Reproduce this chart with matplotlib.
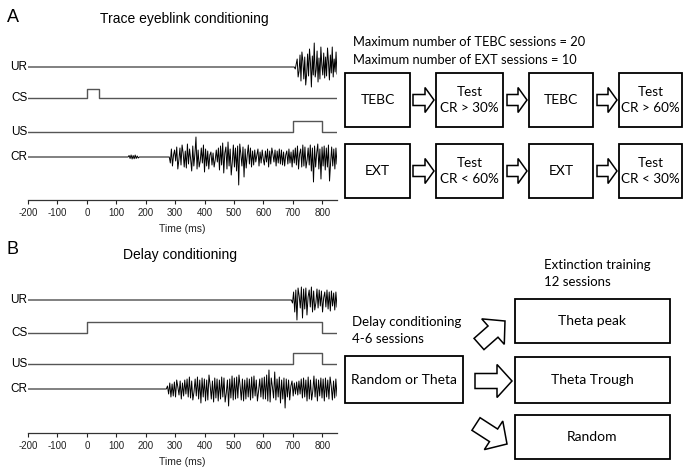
import numpy as np
import matplotlib
matplotlib.use("Agg")
import matplotlib.pyplot as plt
from matplotlib.patches import Rectangle, FancyArrow

plt.rcParams['font.family'] = ['Liberation Sans', 'DejaVu Sans']
plt.rcParams['axes.unicode_minus'] = False

# time axis (ms)
time_ticks = [-200, -100, 0, 100, 200, 300, 400, 500, 600, 700, 800]
t_start, t_end = -200, 850

# stimulus on/off times (ms)
cs_a = (0, 40)
us_a = (700, 800)
cs_b = (0, 800)
us_b = (700, 800)

# EMG traces (arbitrary units, positive = up)
ur_a_span = (705, 850)
ur_a = [0, -2, 3, 8, -10, -4, 12, -14,
        15, 6, -12, 10, -18, -7, 13, -9, 18, 4, -20, 11, -8,
        24, -10, -3, 16, -15, 9, -12, 20, 2, -8, 14, -11,
        10, -9, 19, 5, -13, 12, -6, 20, -10, 8, -5, 15, -7]

cr_a_blip_span = (140, 178)
cr_a_blip = [0, 1.5, -1.5, 2, -2, 1.5, -1.8, 2, -1.5, 1, -1, 0]

cr_a_span = (280, 850)
cr_a = [0, -6, 8, -9, 2, 7, -4,
        10, -12, -3, 9, -8, 12, 4, -10, 6, -11, 13, -7, 8, -2, -14,
        11, -9, 3, 20, -12, 7, -10, -4, 9, -6, 12, -15, 8, -9,
        6, -12, 2, 5, -8, 4, -10, -3, 7, -5, 9, -13, 11, -8,
        14, -16, 4, 10, -12, 15, -9, 8, -18, -5, 12, -10, 9, -14,
        11, -28, 13, 3, -9, 10, -20, 8, -11, 2, 12, -7, 9, -10,
        6, -8, 7, -5, 2, 8, -9, 5, -6, 7, -2, -8, 6, -5,
        8, -10, 6, -7, 9, 3, -5, 7, -9, 6, -6, 8, -7,
        7, -8, 5, -9, 2, 6, -7, 8, -6, 5, -10, 7, -6,
        9, -8, 11, -12, 3, 8, -10, 12, -9, 10, -11, -3, 9, -8,
        12, -14, 9, -25, 11, -10, 4, 13, -12, 8, -22, 10, -9,
        11, -13, 9, -10, 12, -24, -6, 10, -9, 8, -12, 9, -7]

ur_b_span = (695, 850)
ur_b = [0, -3, 8, -12, 10, -20, 12, 4, -8, 13, -18, 11, -9, 12, -15, 3, 10, -7,
        13, -12, 9, -10, -3, 11, -8, 10, -6, 9, -12, 2, 8, -7, 10, -9, 8, -11,
        9, -6, 7, -10, 8, -7]

cr_b_span = (270, 850)
cr_b = [0, 3, -5, 6, -8, 5, -7,
        7, -8, 9, 2, -6, 8, -10, 6, -7, 9, -5, 10, -8,
        12, -9, 8, -11, -3, 10, -7, 12, -10, 9, -14, 11, -8,
        10, -12, 9, -11, 14, 4, -10, 8, -13, 11, -9, 10, -12,
        9, -10, 12, -8, 11, -13, -4, 9, -17, 10, -9, 13, -11,
        11, -10, 12, -9, 14, 3, -11, 10, -12, 9, -10, 11, -8,
        10, -11, 12, -9, 13, -7, 9, -12, -2, 10, -8, 11, -10,
        12, -10, 14, -12, 19, -13, 11, 2, -9, 17, -11, 10, -8,
        12, -14, 9, -10, 11, -19, 10, -8, 9, -11, 3, 8, -7,
        6, -5, 7, -6, 8, -5, 10, -9, 11, -8, 9, -12,
        12, -10, 9, -11, -2, 13, -8, 10, -12, 9, -7, 11, -9,
        10, -12, 11, -8, 9, -10, 12, 3, -11, 8, -9, 10, -7]

# flowchart text
tebc_row = ["TEBC", "Test\nCR > 30%", "TEBC", "Test\nCR > 60%"]
ext_row = ["EXT", "Test\nCR < 60%", "EXT", "Test\nCR < 30%"]
ext_groups = ["Theta peak", "Theta Trough", "Random"]

W, H = 685, 469
fig = plt.figure(figsize=(W / 100, H / 100), dpi=100)

GRAY = '#555555'
FLOW_FONT = 'Lato'


def trace_axes(y_bottom, y_top):
    # axes placed in figure pixels, y data in pixels too (inverted)
    ax = fig.add_axes([28 / W, 1 - y_bottom / H, 309 / W, (y_bottom - y_top) / H])
    ax.set_xlim(t_start, t_end)
    ax.set_ylim(y_bottom, y_top)
    for s in ['top', 'right', 'left']:
        ax.spines[s].set_visible(False)
    ax.spines['bottom'].set_color('#333333')
    ax.spines['bottom'].set_linewidth(0.9)
    ax.set_yticks([])
    ax.set_xticks(time_ticks)
    ax.tick_params(axis='x', labelsize=7, length=3, width=0.8, pad=3,
                   colors='#222222')
    ax.set_xlabel('Time (ms)', fontsize=7.5, labelpad=4, color='#222222')
    ax.patch.set_alpha(0)
    return ax


def emg(ax, y0, segments):
    tt, yy = [t_start], [0.0]
    for span, vals in segments:
        tt.extend(np.linspace(span[0], span[1], len(vals)))
        yy.extend(vals)
    tt.append(t_end)
    yy.append(yy[-1])
    ax.plot(tt, y0 - np.array(yy), color='black', lw=0.7)


def pulse(ax, y0, on_off, h):
    on, off = on_off
    ax.plot([t_start, on, on, off, off, t_end],
            [y0, y0, y0 - h, y0 - h, y0, y0], color=GRAY, lw=1.0)


def label(ax, y0, txt):
    ax.annotate(txt, (t_start, y0), xytext=(-0.5, 0), textcoords='offset points',
                ha='right', va='center', fontsize=8.5, annotation_clip=False)


# ---- panel A traces
axA = trace_axes(200, 35)
emg(axA, 67, [(ur_a_span, ur_a)])
pulse(axA, 98, cs_a, 9)
pulse(axA, 132, us_a, 11)
emg(axA, 157, [(cr_a_blip_span, cr_a_blip), (cr_a_span, cr_a)])
for y0, txt in [(67, 'UR'), (98, 'CS'), (132, 'US'), (157, 'CR')]:
    label(axA, y0, txt)

# ---- panel B traces
axB = trace_axes(433, 268)
emg(axB, 300, [(ur_b_span, ur_b)])
pulse(axB, 333, cs_b, 11)
pulse(axB, 364, us_b, 11)
emg(axB, 389, [(cr_b_span, cr_b)])
for y0, txt in [(300, 'UR'), (333, 'CS'), (364, 'US'), (389, 'CR')]:
    label(axB, y0, txt)

# ---- overlay in pixel coordinates for titles and flowcharts
ov = fig.add_axes([0, 0, 1, 1])
ov.set_xlim(0, W)
ov.set_ylim(H, 0)
ov.axis('off')
ov.patch.set_alpha(0)

ov.text(7, 18, 'A', fontsize=13, va='center', ha='left')
ov.text(184, 19, 'Trace eyeblink conditioning', fontsize=10, ha='center', va='center')
ov.text(7, 249, 'B', fontsize=13, va='center', ha='left')
ov.text(180, 255, 'Delay conditioning', fontsize=10, ha='center', va='center')


def box(x0, x1, y0, y1, txt, fs=10):
    ov.add_patch(Rectangle((x0, y0), x1 - x0, y1 - y0, fill=False,
                           edgecolor='black', lw=1.3))
    ov.text((x0 + x1) / 2, (y0 + y1) / 2, txt, ha='center', va='center',
            fontsize=fs, family=FLOW_FONT, linespacing=1.35)


def block_arrow(x0, y0, x1, y1, shaft, head, head_len):
    ov.add_patch(FancyArrow(x0, y0, x1 - x0, y1 - y0, width=shaft,
                            head_width=head, head_length=head_len,
                            length_includes_head=True, facecolor='white',
                            edgecolor='black', lw=1.1))


# panel A flowchart
ov.text(353, 42, 'Maximum number of TEBC sessions = 20', fontsize=9.3,
        family=FLOW_FONT, va='center', ha='left')
ov.text(353, 60, 'Maximum number of EXT sessions = 10', fontsize=9.3,
        family=FLOW_FONT, va='center', ha='left')

box_x = [(345, 410), (436, 503), (529, 593), (619, 682)]
arrow_x = [(413, 434), (507, 527), (597, 617)]
for row, (y0, y1) in zip([tebc_row, ext_row], [(73, 127), (144, 198)]):
    for (x0, x1), txt in zip(box_x, row):
        box(x0, x1, y0, y1, txt, fs=9.7 if '\n' in txt else 10)
    yc = (y0 + y1) / 2
    for xa, xb in arrow_x:
        block_arrow(xa, yc, xb, yc, 11, 25, 9)

# panel B flowchart
ov.text(544, 265, 'Extinction training', fontsize=9.5, family=FLOW_FONT,
        va='center', ha='left')
ov.text(544, 282, '12 sessions', fontsize=9.5, family=FLOW_FONT,
        va='center', ha='left')
ov.text(352, 322, 'Delay conditioning', fontsize=9.5, family=FLOW_FONT,
        va='center', ha='left')
ov.text(352, 339, '4-6 sessions', fontsize=9.5, family=FLOW_FONT,
        va='center', ha='left')

box(345, 463, 356, 403, 'Random or Theta')
for (y0, y1), txt in zip([(299, 343), (357, 403), (415, 459)], ext_groups):
    box(515, 670, y0, y1, txt)

block_arrow(479, 344, 505, 321, 15, 34, 16)
block_arrow(475, 381, 512, 381, 15, 33, 15)
block_arrow(476, 424, 507, 444, 15, 34, 16)

fig.savefig('out.png', dpi=100, facecolor='white')
